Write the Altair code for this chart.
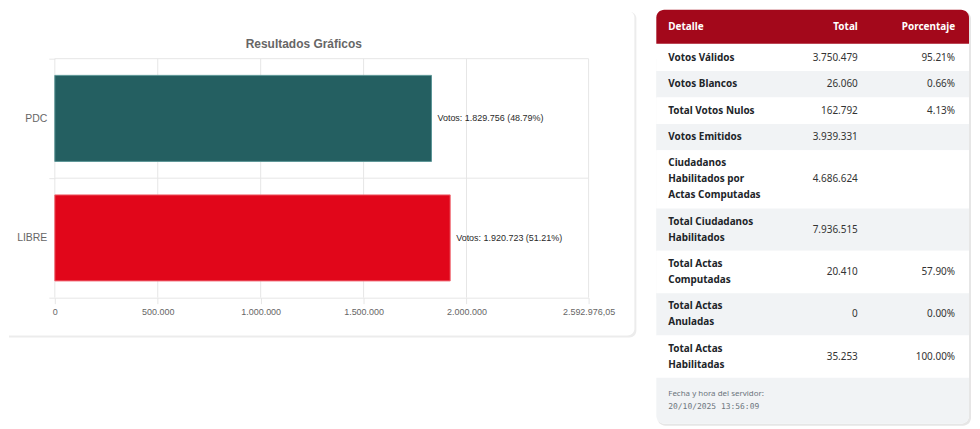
import altair as alt
import pandas as pd

# ---------------- data ----------------
title_text = "Resultados Gráficos"
parties = ["PDC", "LIBRE"]
votes = [1829756, 1920723]
party_colors = ["#245f61", "#e1061a"]
party_strokes = ["#5b9596", "#f06872"]
x_ticks = [0, 500000, 1000000, 1500000, 2000000]
x_max = 2592976.05

headers = ["Detalle", "Total", "Porcentaje"]
detalle = [
    "Votos Válidos",
    "Votos Blancos",
    "Total Votos Nulos",
    "Votos Emitidos",
    "Ciudadanos\nHabilitados por\nActas Computadas",
    "Total Ciudadanos\nHabilitados",
    "Total Actas\nComputadas",
    "Total Actas\nAnuladas",
    "Total Actas\nHabilitadas",
]
totales = [3750479, 26060, 162792, 3939331, 4686624, 7936515, 20410, 0, 35253]
porcentajes = [95.21, 0.66, 4.13, None, None, None, 57.90, 0.00, 100.00]
footer_lines = ["Fecha y hora del servidor:", "20/10/2025 13:56:09"]


def fmt_int(v):
    return f"{v:,}".replace(",", ".")


# ---------------- layout constants ----------------
V0 = 49          # distance from top of chart to top of the plot area
GRID = "#e6e6e6"
AX_FONT = "Liberation Sans"

# ---------------- left panel: bar chart ----------------
PW, PH = 536, 240

total_valid = sum(votes)
bars_df = pd.DataFrame({"partido": parties, "votos": votes})
bars_df["etiqueta"] = [f"Votos: {fmt_int(v)} ({v / total_valid * 100:.2f}%)" for v in votes]
grid_df = pd.DataFrame({"v": x_ticks + [x_max]})
sep_df = pd.DataFrame({"partido": parties})
one = pd.DataFrame({"k": [0]})
title_df = pd.DataFrame({"t": [title_text]})

xs = alt.Scale(domain=[0, x_max], nice=False, zero=True)
ys = alt.Scale(domain=parties, paddingInner=0, paddingOuter=0)

label_expr = (
    "replace(replace(replace(format(datum.value, ',.2~f'), regexp(',', 'g'), '#'),"
    " regexp('[.]', 'g'), ','), regexp('#', 'g'), '.')"
)
x_axis = alt.Axis(
    values=x_ticks + [x_max], labelExpr=label_expr, grid=False,
    domain=True, domainColor=GRID, ticks=True, tickColor=GRID, tickSize=6,
    labelFontSize=9, labelColor="#666", labelFont=AX_FONT, labelPadding=4,
    labelFlush=False, labelOverlap=False, zindex=1, title=None,
)
y_axis = alt.Axis(
    grid=False, domain=False, ticks=True, tickBand="extent", tickColor=GRID,
    tickSize=6, labelPadding=2, labelFontSize=10.5, labelColor="#666",
    labelFont=AX_FONT, minExtent=46, zindex=1, title=None,
)

shadow_l = alt.Chart(one).mark_rect(
    fill="#ececec", cornerRadiusTopRight=7, cornerRadiusBottomRight=7
).encode(
    x=alt.value(-46), x2=alt.value(PW + 48), y=alt.value(-V0 + 2), y2=alt.value(PH + 40)
)
card_l = alt.Chart(one).mark_rect(
    fill="white", cornerRadiusTopRight=7, cornerRadiusBottomRight=7
).encode(
    x=alt.value(-46), x2=alt.value(PW + 46), y=alt.value(-V0 + 1), y2=alt.value(PH + 38)
)
title_mark = alt.Chart(title_df).mark_text(
    align="center", baseline="middle", fontSize=12, font=AX_FONT, fontWeight="bold", color="#666"
).encode(x=alt.value(PW / 2 - 18), y=alt.value(-15), text="t:N")
vgrid = alt.Chart(grid_df).mark_rule(color=GRID, strokeWidth=1).encode(
    x=alt.X("v:Q", scale=xs, axis=x_axis)
)
hgrid = alt.Chart(sep_df).mark_rule(color=GRID, strokeWidth=1).encode(
    y=alt.Y("partido:N", scale=ys, axis=y_axis, bandPosition=0)
)
bars = alt.Chart(bars_df).mark_bar(height=alt.RelativeBandSize(0.72), strokeWidth=1).encode(
    x=alt.X("votos:Q", scale=xs, axis=x_axis),
    y=alt.Y("partido:N", scale=ys, axis=y_axis),
    color=alt.Color("partido:N", scale=alt.Scale(domain=parties, range=party_colors), legend=None),
    stroke=alt.Stroke("partido:N", scale=alt.Scale(domain=parties, range=party_strokes), legend=None),
)
labels = alt.Chart(bars_df).mark_text(
    align="left", baseline="middle", dx=6, fontSize=9, font=AX_FONT, color="#2a2a2a"
).encode(
    x=alt.X("votos:Q", scale=xs, axis=x_axis),
    y=alt.Y("partido:N", scale=ys, axis=y_axis),
    text="etiqueta:N",
)

left = alt.layer(shadow_l, card_l, title_mark, vgrid, hgrid, bars, labels).properties(
    width=PW, height=PH
)

# ---------------- right panel: table ----------------
TW = 314
HEADER_H = 34
LINE = 16
PADV = 5.25
FOOT_PAD = 10
FOOT_LINE = 13
T_FONT = "Noto Sans"
STRIPE = "#f1f3f5"

recs = []
top = HEADER_H + 1
for i, (d, t, p) in enumerate(zip(detalle, totales, porcentajes)):
    n = d.count("\n") + 1
    h = 2 * PADV + LINE * n
    recs.append(dict(i=i, detalle=d, total=fmt_int(t),
                     pct="" if p is None else f"{p:.2f}%",
                     top=top, bot=top + h, mid=top + h / 2,
                     first=top + h / 2 - (n - 1) * LINE / 2))
    top += h
rows_df = pd.DataFrame(recs)
footer_top = top
TH = footer_top + 2 * FOOT_PAD + FOOT_LINE * len(footer_lines)
foot_df = pd.DataFrame({
    "txt": footer_lines,
    "kind": ["label", "time"],
    "mid": [footer_top + FOOT_PAD + FOOT_LINE * (k + 0.5) for k in range(len(footer_lines))],
    "col": ["Detalle"] * len(footer_lines),
})
head_df = pd.DataFrame({"col": headers, "mid": [HEADER_H / 2] * 3, "top": [0] * 3, "bot": [HEADER_H] * 3})
foot_rect_df = pd.DataFrame({"top": [footer_top], "bot": [TH]})

xs_t = alt.Scale(type="band", domain=headers, paddingInner=0, paddingOuter=0)
ys_t = alt.Scale(domain=[0, TH], range=[-V0, TH - V0], nice=False, zero=False)


def Yt(f):
    return alt.Y(f, scale=ys_t, axis=None)


def Xt(f, bp):
    return alt.X(f, scale=xs_t, axis=None, bandPosition=bp)


shadow_r = alt.Chart(one).mark_rect(fill="#e6e6e6", cornerRadius=8).encode(
    x=alt.value(1), x2=alt.value(TW + 2), y=alt.value(-V0 + 1.5), y2=alt.value(TH - V0 + 2)
)
card_r = alt.Chart(one).mark_rect(fill="white", cornerRadius=8).encode(
    x=alt.value(0), x2=alt.value(TW), y=alt.value(-V0), y2=alt.value(TH - V0)
)
head_rect = alt.Chart(head_df.head(1)).mark_rect(
    fill="#a3081b", cornerRadiusTopLeft=8, cornerRadiusTopRight=8
).encode(x=alt.value(0), x2=alt.value(TW), y=Yt("top:Q"), y2="bot:Q")
row_rects = alt.Chart(rows_df).mark_rect().encode(
    x=alt.value(0), x2=alt.value(TW), y=Yt("top:Q"), y2="bot:Q",
    fill=alt.condition("datum.i % 2 == 1", alt.value(STRIPE), alt.value("white")),
)
foot_rect = alt.Chart(foot_rect_df).mark_rect(
    fill=STRIPE, cornerRadiusBottomLeft=8, cornerRadiusBottomRight=8
).encode(x=alt.value(0), x2=alt.value(TW), y=Yt("top:Q"), y2="bot:Q")

head_left = alt.Chart(head_df).transform_filter("datum.col == 'Detalle'").mark_text(
    align="left", baseline="middle", dx=12, fontSize=10, font=T_FONT, fontWeight="bold", color="white"
).encode(x=Xt("col:N", 0), y=Yt("mid:Q"), text="col:N")
head_total = alt.Chart(head_df).transform_filter("datum.col == 'Total'").mark_text(
    align="right", baseline="middle", dx=-7, fontSize=10, font=T_FONT, fontWeight="bold", color="white"
).encode(x=Xt("col:N", 1), y=Yt("mid:Q"), text="col:N")
head_pct = alt.Chart(head_df).transform_filter("datum.col == 'Porcentaje'").mark_text(
    align="right", baseline="middle", dx=-14, fontSize=10, font=T_FONT, fontWeight="bold", color="white"
).encode(x=Xt("col:N", 1), y=Yt("mid:Q"), text="col:N")

txt_det = alt.Chart(rows_df).transform_calculate(col="'Detalle'").mark_text(
    align="left", baseline="middle", dx=12, fontSize=10, font=T_FONT, fontWeight="bold",
    color="#212529", lineBreak="\n", lineHeight=LINE,
).encode(x=Xt("col:N", 0), y=Yt("first:Q"), text="detalle:N")
txt_tot = alt.Chart(rows_df).transform_calculate(col="'Total'").mark_text(
    align="right", baseline="middle", dx=-7, fontSize=10, font=T_FONT, color="#333"
).encode(x=Xt("col:N", 1), y=Yt("mid:Q"), text="total:N")
txt_pct = alt.Chart(rows_df).transform_calculate(col="'Porcentaje'").mark_text(
    align="right", baseline="middle", dx=-14, fontSize=10, font=T_FONT, color="#333"
).encode(x=Xt("col:N", 1), y=Yt("mid:Q"), text="pct:N")

foot_lbl = alt.Chart(foot_df).transform_filter("datum.kind == 'label'").mark_text(
    align="left", baseline="middle", dx=12, fontSize=8, font=T_FONT, color="#6c757d"
).encode(x=Xt("col:N", 0), y=Yt("mid:Q"), text="txt:N")
foot_time = alt.Chart(foot_df).transform_filter("datum.kind == 'time'").mark_text(
    align="left", baseline="middle", dx=12, fontSize=8, font="DejaVu Sans Mono", color="#6c757d"
).encode(x=Xt("col:N", 0), y=Yt("mid:Q"), text="txt:N")

right = alt.layer(
    shadow_r, card_r, head_rect, row_rects, foot_rect,
    head_left, head_total, head_pct, txt_det, txt_tot, txt_pct, foot_lbl, foot_time,
).properties(width=TW, height=PH)

chart = (
    alt.hconcat(left, right, spacing=18)
    .properties(padding={"left": 0, "top": 0, "right": 0, "bottom": 0})
    .configure_view(stroke=None)
    .configure(background="white")
)

chart.save("out.html", embed_options={"renderer": "svg", "actions": False})
